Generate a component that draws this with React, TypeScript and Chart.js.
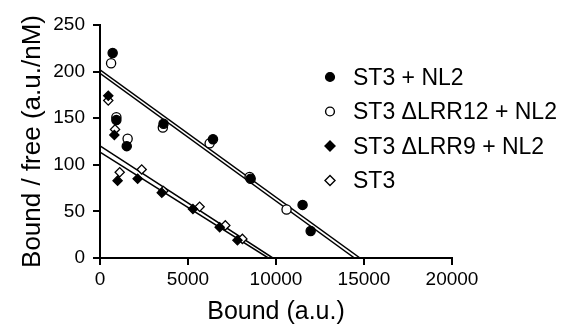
import React, { useEffect, useRef } from 'react';
import { Chart, registerables } from 'chart.js';

Chart.register(...registerables);

const FONT = "'Liberation Sans', Arial, Helvetica, sans-serif";

const seriesLabels = ['ST3 + NL2', 'ST3 \u0394LRR12 + NL2', 'ST3 \u0394LRR9 + NL2', 'ST3'];

// ST3 + NL2 (filled circles)
const st3NL2X = [720, 930, 1520, 3610, 6420, 8560, 11510, 11970];
const st3NL2Y = [220, 148, 120, 144, 127.5, 85, 57, 29];
// ST3 ΔLRR12 + NL2 (open circles)
const lrr12X = [630, 930, 1570, 3570, 6230, 8500, 10600];
const lrr12Y = [209, 151, 128, 140, 123, 87, 52];
// ST3 ΔLRR9 + NL2 (filled diamonds)
const lrr9X = [470, 815, 1000, 2140, 3510, 5280, 6800, 7810];
const lrr9Y = [174, 132, 83, 85, 70, 52.5, 33, 19];
// ST3 (open diamonds)
const st3X = [470, 855, 1120, 2370, 3600, 5660, 7120, 8090];
const st3Y = [169, 138, 92, 95, 72, 55, 35, 20.5];

// regression lines (same series order): value at x = 0 and x where the line meets 0
const fitYIntercepts = [201.8, 198.2, 113.6, 120.3];
const fitXIntercepts = [14775, 14460, 9561, 9818];

const xTicks = [0, 5000, 10000, 15000, 20000];
const yTicks = [0, 50, 100, 150, 200, 250];

const xTitle = 'Bound (a.u.)';
const yTitle = 'Bound / free (a.u./nM)';

const toPoints = (xs: number[], ys: number[]) => xs.map((x, i) => ({ x, y: ys[i] }));

const markerStyles = [
  { pointStyle: 'circle', fill: '#000000', radius: 4.6 },
  { pointStyle: 'circle', fill: '#ffffff', radius: 4.6 },
  { pointStyle: 'rectRot', fill: '#000000', radius: 4.6 },
  { pointStyle: 'rectRot', fill: '#ffffff', radius: 4.6 },
];

const legendPlugin = {
  id: 'insideLegend',
  afterDraw(chart: any) {
    const ctx = chart.ctx as CanvasRenderingContext2D;
    const area = chart.chartArea;
    const symX = area.left + 230;
    const textX = area.left + 253;
    const top = area.top + 52;
    const step = 34.5;
    ctx.save();
    ctx.font = `23px ${FONT}`;
    ctx.textBaseline = 'middle';
    ctx.textAlign = 'left';
    seriesLabels.forEach((label, i) => {
      const y = top + i * step;
      const m = markerStyles[i];
      ctx.beginPath();
      if (m.pointStyle === 'circle') {
        ctx.arc(symX, y, 4.4, 0, Math.PI * 2);
      } else {
        const r = 5;
        ctx.moveTo(symX, y - r);
        ctx.lineTo(symX + r, y);
        ctx.lineTo(symX, y + r);
        ctx.lineTo(symX - r, y);
        ctx.closePath();
      }
      ctx.fillStyle = m.fill;
      ctx.fill();
      ctx.lineWidth = 1.4;
      ctx.strokeStyle = '#000000';
      ctx.stroke();
      ctx.fillStyle = '#000000';
      ctx.fillText(label, textX, y + 1.5);
    });
    ctx.restore();
  },
};

export default function App() {
  const canvasRef = useRef<HTMLCanvasElement | null>(null);

  useEffect(() => {
    if (!canvasRef.current) return;
    Chart.defaults.font.family = FONT;
    Chart.defaults.color = '#000000';

    const scatterSets = [
      toPoints(st3NL2X, st3NL2Y),
      toPoints(lrr12X, lrr12Y),
      toPoints(lrr9X, lrr9Y),
      toPoints(st3X, st3Y),
    ].map((data, i) => ({
      label: seriesLabels[i],
      data,
      pointStyle: markerStyles[i].pointStyle,
      pointRadius: markerStyles[i].radius,
      pointBackgroundColor: markerStyles[i].fill,
      pointBorderColor: '#000000',
      pointBorderWidth: 1.3,
      showLine: false,
      order: i,
    }));

    const lineSets = fitYIntercepts.map((y0, i) => ({
      label: seriesLabels[i] + ' fit',
      data: [
        { x: 0, y: y0 },
        { x: fitXIntercepts[i], y: 0 },
      ],
      showLine: true,
      borderColor: '#000000',
      borderWidth: 1.5,
      pointRadius: 0,
      fill: false,
      order: 10 + i,
    }));

    const chart = new Chart(canvasRef.current, {
      type: 'scatter',
      data: { datasets: [...scatterSets, ...lineSets] as any },
      options: {
        animation: false,
        responsive: false,
        layout: { padding: { top: 25, right: 124, left: 0, bottom: 0 } },
        plugins: { legend: { display: false }, tooltip: { enabled: false } },
        scales: {
          x: {
            type: 'linear',
            min: xTicks[0],
            max: xTicks[xTicks.length - 1],
            afterBuildTicks: (s: any) => {
              s.ticks = xTicks.map((v) => ({ value: v }));
            },
            afterFit: (s: any) => {
              s.height = 72;
            },
            ticks: {
              color: '#000000',
              font: { size: 19, family: FONT },
              padding: 3,
              maxRotation: 0,
              autoSkip: false,
              callback: (v: any) => String(v),
            },
            grid: {
              display: true,
              drawOnChartArea: false,
              drawTicks: true,
              tickLength: 7,
              color: '#000000',
              lineWidth: 2,
            },
            border: { display: true, color: '#000000', width: 2 },
            title: {
              display: true,
              text: xTitle,
              color: '#000000',
              font: { size: 25, family: FONT },
              padding: { top: 0, bottom: 3 },
            },
          },
          y: {
            type: 'linear',
            min: yTicks[0],
            max: yTicks[yTicks.length - 1],
            afterBuildTicks: (s: any) => {
              s.ticks = yTicks.map((v) => ({ value: v }));
            },
            afterFit: (s: any) => {
              s.width = 100;
            },
            ticks: {
              color: '#000000',
              font: { size: 19, family: FONT },
              padding: 8,
              autoSkip: false,
              callback: (v: any) => String(v),
            },
            grid: {
              display: true,
              drawOnChartArea: false,
              drawTicks: true,
              tickLength: 7,
              color: '#000000',
              lineWidth: 2,
            },
            border: { display: true, color: '#000000', width: 2 },
            title: {
              display: true,
              text: yTitle,
              color: '#000000',
              font: { size: 26, family: FONT },
              padding: { top: 17, bottom: 0 },
            },
          },
        },
      },
      plugins: [legendPlugin],
    });

    return () => chart.destroy();
  }, []);

  return (
    <div style={{ position: 'fixed', left: 0, top: 0, width: 576, height: 330, background: '#ffffff' }}>
      <canvas ref={canvasRef} width={576} height={330} style={{ display: 'block' }} />
    </div>
  );
}
